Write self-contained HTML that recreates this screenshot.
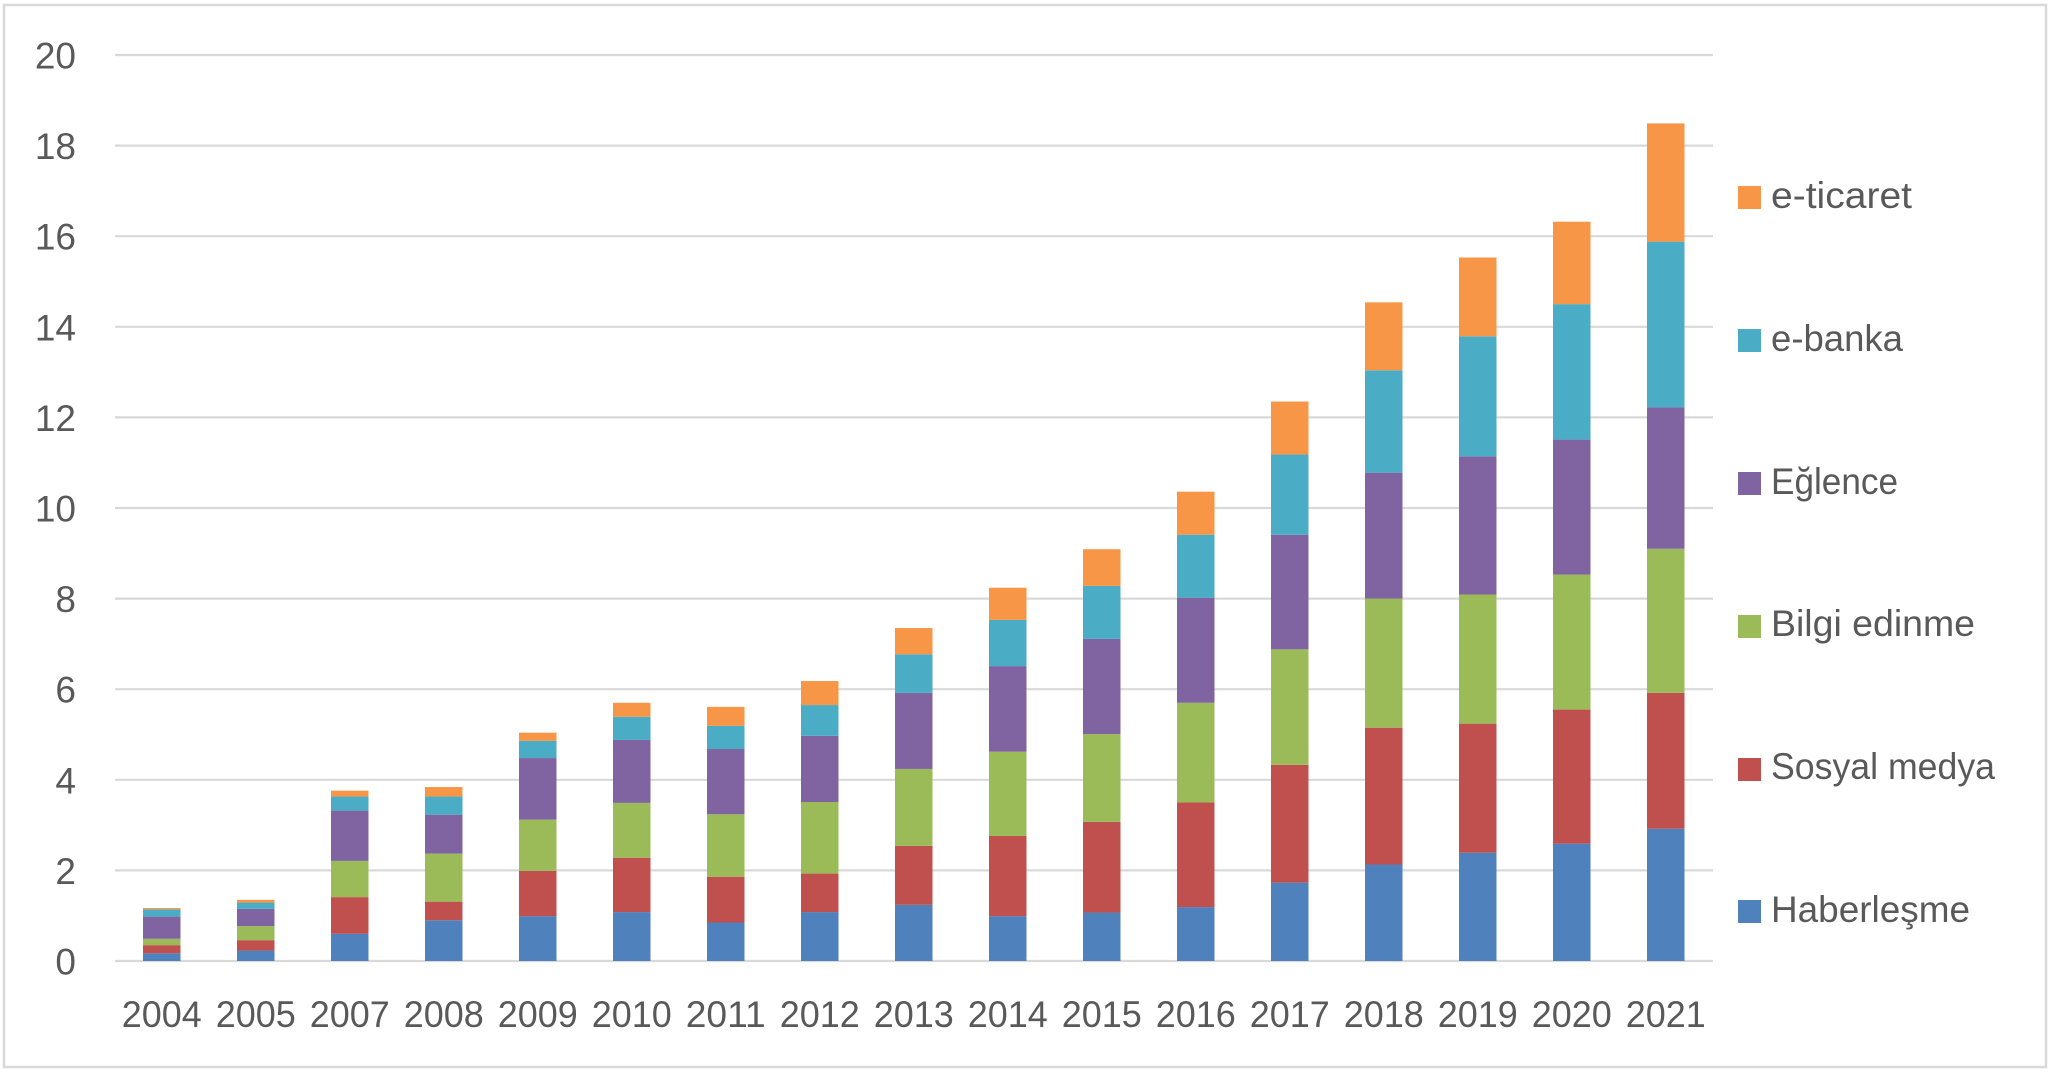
<!DOCTYPE html>
<html>
<head>
<meta charset="utf-8">
<style>
  html, body { margin:0; padding:0; background:#ffffff; }
  svg { display:block; }
  text { font-family: "Liberation Sans", "DejaVu Sans", sans-serif; fill:#595959; font-size:37px; }
</style>
</head>
<body>
<svg width="2053" height="1077" viewBox="0 0 2053 1077" xmlns="http://www.w3.org/2000/svg">
  <rect x="0" y="0" width="2053" height="1077" fill="#ffffff"/>
  <rect x="4" y="5" width="2042" height="1062" fill="none" stroke="#d9d9d9" stroke-width="2.5"/>

  <!-- gridlines -->
  <g stroke="#d9d9d9" stroke-width="2.2">
    <line x1="115" y1="961" x2="1713" y2="961"/>
    <line x1="115" y1="870.4" x2="1713" y2="870.4"/>
    <line x1="115" y1="779.8" x2="1713" y2="779.8"/>
    <line x1="115" y1="689.2" x2="1713" y2="689.2"/>
    <line x1="115" y1="598.6" x2="1713" y2="598.6"/>
    <line x1="115" y1="508" x2="1713" y2="508"/>
    <line x1="115" y1="417.4" x2="1713" y2="417.4"/>
    <line x1="115" y1="326.8" x2="1713" y2="326.8"/>
    <line x1="115" y1="236.2" x2="1713" y2="236.2"/>
    <line x1="115" y1="145.6" x2="1713" y2="145.6"/>
    <line x1="115" y1="55" x2="1713" y2="55"/>
  </g>

  <!-- y labels -->
  <g text-anchor="end">
    <text x="76" y="974.5">0</text>
    <text x="76" y="883.9">2</text>
    <text x="76" y="793.3">4</text>
    <text x="76" y="702.7">6</text>
    <text x="76" y="612.1">8</text>
    <text x="76" y="521.5">10</text>
    <text x="76" y="430.9">12</text>
    <text x="76" y="340.3">14</text>
    <text x="76" y="249.7">16</text>
    <text x="76" y="159.1">18</text>
    <text x="76" y="68.5">20</text>
  </g>

  <!-- bars -->
  <g>
    <!-- 2004 -->
    <rect x="143" y="953.30" width="37.5" height="7.70" fill="#4F81BD"/>
    <rect x="143" y="945.14" width="37.5" height="8.16" fill="#C0504D"/>
    <rect x="143" y="938.80" width="37.5" height="6.34" fill="#9BBB59"/>
    <rect x="143" y="916.61" width="37.5" height="22.19" fill="#8064A2"/>
    <rect x="143" y="909.36" width="37.5" height="7.25" fill="#4BACC6"/>
    <rect x="143" y="908.00" width="37.5" height="1.36" fill="#F79646"/>
    <!-- 2005 -->
    <rect x="237" y="950.58" width="37.5" height="10.42" fill="#4F81BD"/>
    <rect x="237" y="940.16" width="37.5" height="10.42" fill="#C0504D"/>
    <rect x="237" y="926.12" width="37.5" height="14.04" fill="#9BBB59"/>
    <rect x="237" y="908.90" width="37.5" height="17.22" fill="#8064A2"/>
    <rect x="237" y="902.56" width="37.5" height="6.34" fill="#4BACC6"/>
    <rect x="237" y="899.84" width="37.5" height="2.72" fill="#F79646"/>
    <!-- 2007 -->
    <rect x="331" y="933.82" width="37.5" height="27.18" fill="#4F81BD"/>
    <rect x="331" y="897.13" width="37.5" height="36.69" fill="#C0504D"/>
    <rect x="331" y="860.89" width="37.5" height="36.24" fill="#9BBB59"/>
    <rect x="331" y="810.60" width="37.5" height="50.29" fill="#8064A2"/>
    <rect x="331" y="796.56" width="37.5" height="14.04" fill="#4BACC6"/>
    <rect x="331" y="790.67" width="37.5" height="5.89" fill="#F79646"/>
    <!-- 2008 -->
    <rect x="425" y="920.23" width="37.5" height="40.77" fill="#4F81BD"/>
    <rect x="425" y="901.66" width="37.5" height="18.57" fill="#C0504D"/>
    <rect x="425" y="853.64" width="37.5" height="48.02" fill="#9BBB59"/>
    <rect x="425" y="814.68" width="37.5" height="38.96" fill="#8064A2"/>
    <rect x="425" y="796.56" width="37.5" height="18.12" fill="#4BACC6"/>
    <rect x="425" y="787.05" width="37.5" height="9.51" fill="#F79646"/>
    <!-- 2009 -->
    <rect x="519" y="916.15" width="37.5" height="44.85" fill="#4F81BD"/>
    <rect x="519" y="870.85" width="37.5" height="45.30" fill="#C0504D"/>
    <rect x="519" y="819.66" width="37.5" height="51.19" fill="#9BBB59"/>
    <rect x="519" y="758.06" width="37.5" height="61.60" fill="#8064A2"/>
    <rect x="519" y="740.84" width="37.5" height="17.22" fill="#4BACC6"/>
    <rect x="519" y="732.69" width="37.5" height="8.15" fill="#F79646"/>
    <!-- 2010 -->
    <rect x="613" y="912.08" width="37.5" height="48.92" fill="#4F81BD"/>
    <rect x="613" y="857.72" width="37.5" height="54.36" fill="#C0504D"/>
    <rect x="613" y="802.90" width="37.5" height="54.82" fill="#9BBB59"/>
    <rect x="613" y="739.94" width="37.5" height="62.96" fill="#8064A2"/>
    <rect x="613" y="716.83" width="37.5" height="23.11" fill="#4BACC6"/>
    <rect x="613" y="702.79" width="37.5" height="14.04" fill="#F79646"/>
    <!-- 2011 -->
    <rect x="707" y="922.49" width="37.5" height="38.51" fill="#4F81BD"/>
    <rect x="707" y="876.74" width="37.5" height="45.75" fill="#C0504D"/>
    <rect x="707" y="814.23" width="37.5" height="62.51" fill="#9BBB59"/>
    <rect x="707" y="749.00" width="37.5" height="65.23" fill="#8064A2"/>
    <rect x="707" y="725.89" width="37.5" height="23.11" fill="#4BACC6"/>
    <rect x="707" y="706.87" width="37.5" height="19.02" fill="#F79646"/>
    <!-- 2012 -->
    <rect x="801" y="912.08" width="37.5" height="48.92" fill="#4F81BD"/>
    <rect x="801" y="873.57" width="37.5" height="38.51" fill="#C0504D"/>
    <rect x="801" y="802.00" width="37.5" height="71.57" fill="#9BBB59"/>
    <rect x="801" y="735.86" width="37.5" height="66.14" fill="#8064A2"/>
    <rect x="801" y="705.05" width="37.5" height="30.81" fill="#4BACC6"/>
    <rect x="801" y="681.05" width="37.5" height="24.00" fill="#F79646"/>
    <!-- 2013 -->
    <rect x="895" y="904.83" width="37.5" height="56.17" fill="#4F81BD"/>
    <rect x="895" y="845.94" width="37.5" height="58.89" fill="#C0504D"/>
    <rect x="895" y="768.93" width="37.5" height="77.01" fill="#9BBB59"/>
    <rect x="895" y="692.82" width="37.5" height="76.11" fill="#8064A2"/>
    <rect x="895" y="654.32" width="37.5" height="38.50" fill="#4BACC6"/>
    <rect x="895" y="628.04" width="37.5" height="26.28" fill="#F79646"/>
    <!-- 2014 -->
    <rect x="989" y="916.15" width="37.5" height="44.85" fill="#4F81BD"/>
    <rect x="989" y="835.97" width="37.5" height="80.18" fill="#C0504D"/>
    <rect x="989" y="751.71" width="37.5" height="84.26" fill="#9BBB59"/>
    <rect x="989" y="666.10" width="37.5" height="85.61" fill="#8064A2"/>
    <rect x="989" y="619.89" width="37.5" height="46.21" fill="#4BACC6"/>
    <rect x="989" y="587.73" width="37.5" height="32.16" fill="#F79646"/>
    <!-- 2015 -->
    <rect x="1083" y="912.53" width="37.5" height="48.47" fill="#4F81BD"/>
    <rect x="1083" y="821.93" width="37.5" height="90.60" fill="#C0504D"/>
    <rect x="1083" y="734.05" width="37.5" height="87.88" fill="#9BBB59"/>
    <rect x="1083" y="638.92" width="37.5" height="95.13" fill="#8064A2"/>
    <rect x="1083" y="585.92" width="37.5" height="53.00" fill="#4BACC6"/>
    <rect x="1083" y="549.22" width="37.5" height="36.70" fill="#F79646"/>
    <!-- 2016 -->
    <rect x="1177" y="907.09" width="37.5" height="53.91" fill="#4F81BD"/>
    <rect x="1177" y="802.45" width="37.5" height="104.64" fill="#C0504D"/>
    <rect x="1177" y="702.79" width="37.5" height="99.66" fill="#9BBB59"/>
    <rect x="1177" y="597.69" width="37.5" height="105.10" fill="#8064A2"/>
    <rect x="1177" y="534.73" width="37.5" height="62.96" fill="#4BACC6"/>
    <rect x="1177" y="491.69" width="37.5" height="43.04" fill="#F79646"/>
    <!-- 2017 -->
    <rect x="1271" y="882.63" width="37.5" height="78.37" fill="#4F81BD"/>
    <rect x="1271" y="764.85" width="37.5" height="117.78" fill="#C0504D"/>
    <rect x="1271" y="649.34" width="37.5" height="115.51" fill="#9BBB59"/>
    <rect x="1271" y="534.73" width="37.5" height="114.61" fill="#8064A2"/>
    <rect x="1271" y="454.55" width="37.5" height="80.18" fill="#4BACC6"/>
    <rect x="1271" y="401.54" width="37.5" height="53.01" fill="#F79646"/>
    <!-- 2018 -->
    <rect x="1365" y="864.51" width="37.5" height="96.49" fill="#4F81BD"/>
    <rect x="1365" y="727.70" width="37.5" height="136.81" fill="#C0504D"/>
    <rect x="1365" y="598.60" width="37.5" height="129.10" fill="#9BBB59"/>
    <rect x="1365" y="472.67" width="37.5" height="125.93" fill="#8064A2"/>
    <rect x="1365" y="370.29" width="37.5" height="102.38" fill="#4BACC6"/>
    <rect x="1365" y="302.34" width="37.5" height="67.95" fill="#F79646"/>
    <!-- 2019 -->
    <rect x="1459" y="852.73" width="37.5" height="108.27" fill="#4F81BD"/>
    <rect x="1459" y="723.63" width="37.5" height="129.10" fill="#C0504D"/>
    <rect x="1459" y="594.52" width="37.5" height="129.11" fill="#9BBB59"/>
    <rect x="1459" y="456.36" width="37.5" height="138.16" fill="#8064A2"/>
    <rect x="1459" y="336.31" width="37.5" height="120.05" fill="#4BACC6"/>
    <rect x="1459" y="257.49" width="37.5" height="78.82" fill="#F79646"/>
    <!-- 2020 -->
    <rect x="1553" y="843.67" width="37.5" height="117.33" fill="#4F81BD"/>
    <rect x="1553" y="709.58" width="37.5" height="134.09" fill="#C0504D"/>
    <rect x="1553" y="574.59" width="37.5" height="134.99" fill="#9BBB59"/>
    <rect x="1553" y="439.60" width="37.5" height="134.99" fill="#8064A2"/>
    <rect x="1553" y="304.15" width="37.5" height="135.45" fill="#4BACC6"/>
    <rect x="1553" y="221.70" width="37.5" height="82.45" fill="#F79646"/>
    <!-- 2021 -->
    <rect x="1647" y="828.72" width="37.5" height="132.28" fill="#4F81BD"/>
    <rect x="1647" y="692.82" width="37.5" height="135.90" fill="#C0504D"/>
    <rect x="1647" y="548.77" width="37.5" height="144.05" fill="#9BBB59"/>
    <rect x="1647" y="407.43" width="37.5" height="141.34" fill="#8064A2"/>
    <rect x="1647" y="241.64" width="37.5" height="165.79" fill="#4BACC6"/>
    <rect x="1647" y="123.40" width="37.5" height="118.24" fill="#F79646"/>
  </g>

  <!-- x labels -->
  <g text-anchor="middle">
    <text x="161.75" y="1027" textLength="80" lengthAdjust="spacingAndGlyphs">2004</text>
    <text x="255.75" y="1027" textLength="80" lengthAdjust="spacingAndGlyphs">2005</text>
    <text x="349.75" y="1027" textLength="80" lengthAdjust="spacingAndGlyphs">2007</text>
    <text x="443.75" y="1027" textLength="80" lengthAdjust="spacingAndGlyphs">2008</text>
    <text x="537.75" y="1027" textLength="80" lengthAdjust="spacingAndGlyphs">2009</text>
    <text x="631.75" y="1027" textLength="80" lengthAdjust="spacingAndGlyphs">2010</text>
    <text x="725.75" y="1027" textLength="80" lengthAdjust="spacingAndGlyphs">2011</text>
    <text x="819.75" y="1027" textLength="80" lengthAdjust="spacingAndGlyphs">2012</text>
    <text x="913.75" y="1027" textLength="80" lengthAdjust="spacingAndGlyphs">2013</text>
    <text x="1007.75" y="1027" textLength="80" lengthAdjust="spacingAndGlyphs">2014</text>
    <text x="1101.75" y="1027" textLength="80" lengthAdjust="spacingAndGlyphs">2015</text>
    <text x="1195.75" y="1027" textLength="80" lengthAdjust="spacingAndGlyphs">2016</text>
    <text x="1289.75" y="1027" textLength="80" lengthAdjust="spacingAndGlyphs">2017</text>
    <text x="1383.75" y="1027" textLength="80" lengthAdjust="spacingAndGlyphs">2018</text>
    <text x="1477.75" y="1027" textLength="80" lengthAdjust="spacingAndGlyphs">2019</text>
    <text x="1571.75" y="1027" textLength="80" lengthAdjust="spacingAndGlyphs">2020</text>
    <text x="1665.75" y="1027" textLength="80" lengthAdjust="spacingAndGlyphs">2021</text>
  </g>

  <!-- legend -->
  <rect x="1738" y="186" width="23" height="23" fill="#F79646"/>
  <text x="1771" y="208" textLength="141" lengthAdjust="spacingAndGlyphs">e-ticaret</text>
  <rect x="1738" y="329" width="23" height="23" fill="#4BACC6"/>
  <text x="1771" y="351" textLength="132" lengthAdjust="spacingAndGlyphs">e-banka</text>
  <rect x="1738" y="472" width="23" height="23" fill="#8064A2"/>
  <text x="1771" y="494" textLength="127" lengthAdjust="spacingAndGlyphs">Eğlence</text>
  <rect x="1738" y="615" width="23" height="23" fill="#9BBB59"/>
  <text x="1771" y="636" textLength="204" lengthAdjust="spacingAndGlyphs">Bilgi edinme</text>
  <rect x="1738" y="758" width="23" height="23" fill="#C0504D"/>
  <text x="1771" y="779" textLength="224" lengthAdjust="spacingAndGlyphs">Sosyal medya</text>
  <rect x="1738" y="900" width="23" height="23" fill="#4F81BD"/>
  <text x="1771" y="922" textLength="199" lengthAdjust="spacingAndGlyphs">Haberleşme</text>
</svg>
</body>
</html>
